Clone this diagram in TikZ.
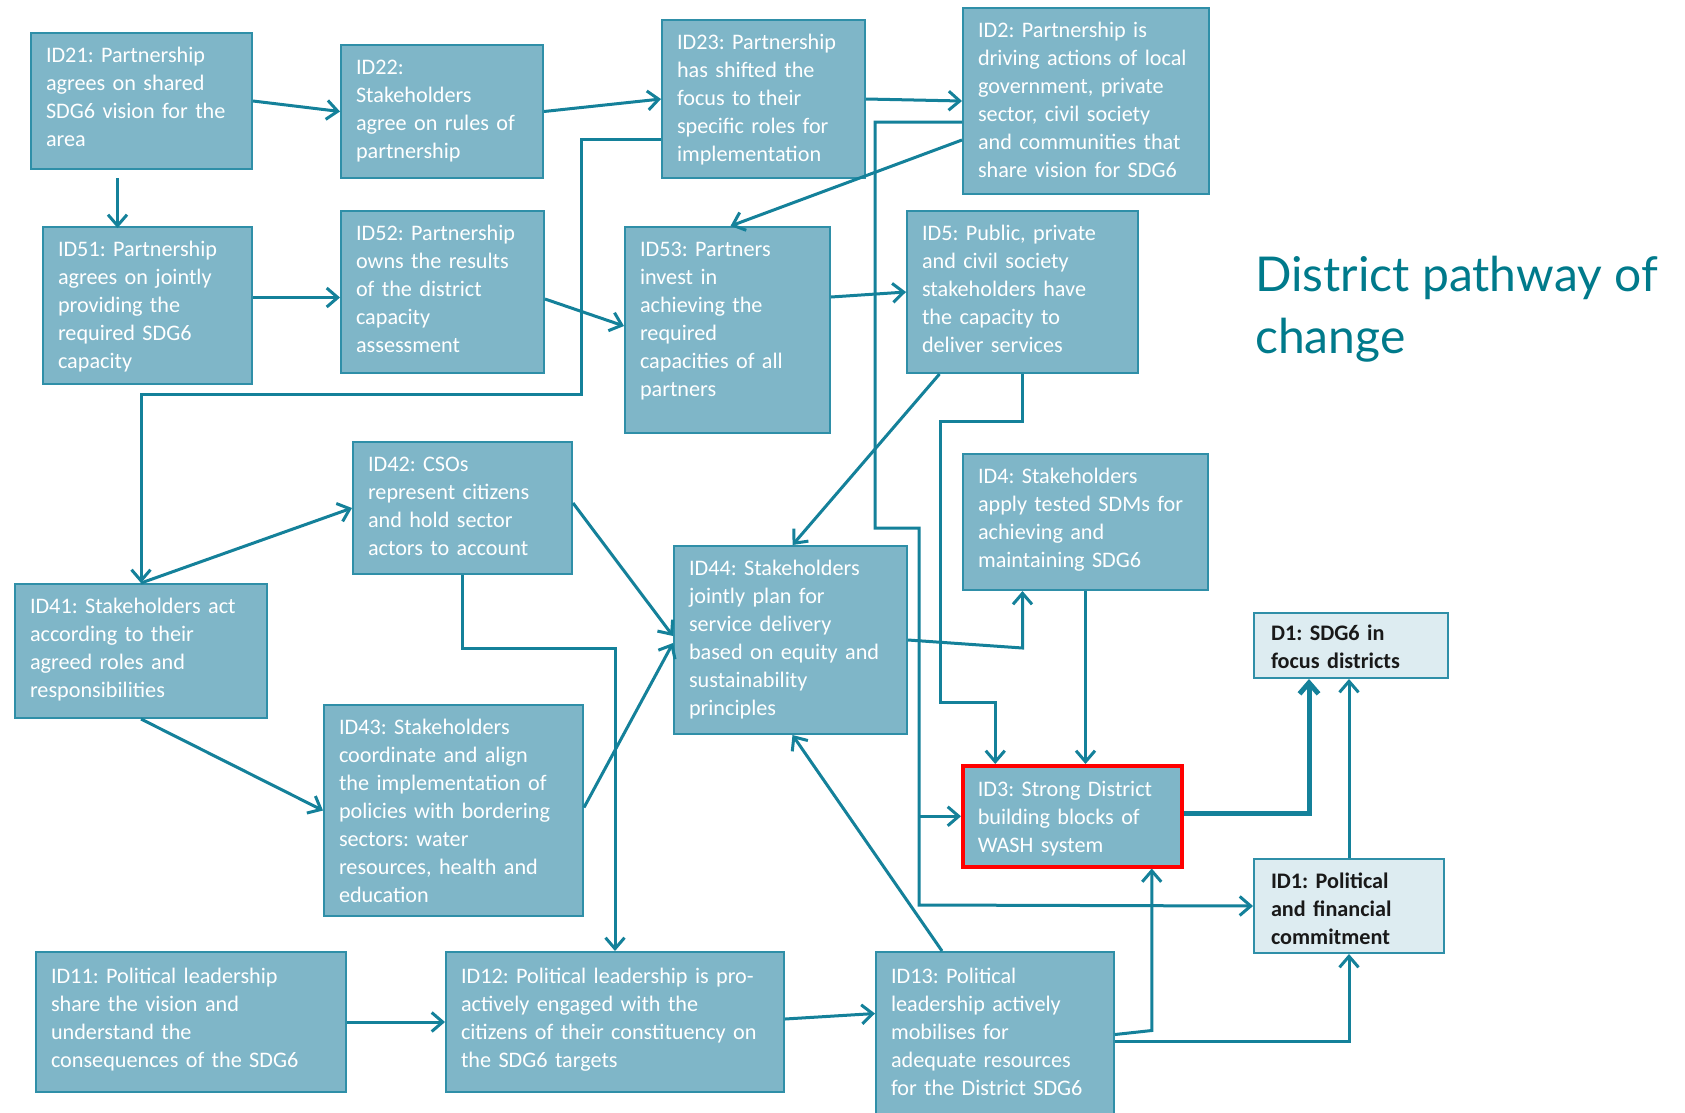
\documentclass[tikz,border=0pt]{standalone}
\usepackage{fontspec}
\setmainfont{Carlito}
\newfontfamily\titlefont{Lato}
\usepackage{xcolor}
\usepackage{tikz}
\usetikzlibrary{arrows.meta, calc}
\definecolor{boxfill}{HTML}{7FB6C8}
\definecolor{boxedge}{HTML}{2F8FA8}
\definecolor{linkcol}{HTML}{14819A}
\definecolor{paleblue}{HTML}{DDECF1}
\definecolor{titlecol}{HTML}{007A8B}
\frenchspacing

\begin{document}
\begin{tikzpicture}[x=1pt, y=-1pt,
    every node/.style={font=\fontsize{22.2}{28}\selectfont},
    idbox/.style={draw=boxedge, line width=2pt, fill=boxfill, text=white, align=left, anchor=north west,
      inner xsep=15pt, inner ysep=14.5pt, text height=15pt},
    outbox/.style={idbox, fill=paleblue, text=black!90, inner xsep=17pt, font=\fontsize{22.2}{28}\selectfont\bfseries},
    link/.style={draw=linkcol, line width=3pt, -{Straight Barb[length=11pt, width=19pt]}}]
    \useasboundingbox (0,0) rectangle (1685,1112);
    \fill[white] (0,0) rectangle (1685,1112);

    % Partnership boxes
    \node[idbox, text width=191pt, text depth=92pt] (id21) at (30,32) {ID21: Partnership\\agrees on shared\\SDG6 vision for the\\area};
    \node[idbox, text width=172pt, text depth=89pt] (id22) at (340,44) {ID22:\\Stakeholders\\agree on rules of\\partnership};
    \node[idbox, text width=173pt, text depth=114pt] (id23) at (661,19) {ID23: Partnership\\has shifted the\\focus to their\\specific roles for\\implementation};
    \node[idbox, text width=216pt, text depth=142pt] (id2) at (962,7) {ID2: Partnership is\\driving actions of local\\government, private\\sector, civil society\\and communities that\\share vision for SDG6};
    \node[idbox, text width=179pt, text depth=113pt] (id51) at (42,226) {ID51: Partnership\\agrees on jointly\\providing the\\required SDG6\\capacity};
    \node[idbox, text width=173pt, text depth=118pt] (id52) at (340,210) {ID52: Partnership\\owns the results\\of the district\\capacity\\assessment};
    \node[idbox, text width=175pt, text depth=162pt] (id53) at (624,226) {ID53: Partners\\invest in\\achieving the\\required\\capacities of all\\partners};
    \node[idbox, text width=201pt, text depth=118pt] (id5) at (906,210) {ID5: Public, private\\and civil society\\stakeholders have\\the capacity to\\deliver services};

    % Stakeholder boxes
    \node[idbox, text width=189pt, text depth=88pt] (id42) at (352,441) {ID42: CSOs\\represent citizens\\and hold sector\\actors to account};
    \node[idbox, text width=222pt, text depth=90pt] (id41) at (14,583) {ID41: Stakeholders act\\according to their\\agreed roles and\\responsibilities};
    \node[idbox, text width=229pt, text depth=167pt] (id43) at (323,704) {ID43: Stakeholders\\coordinate and align\\the implementation of\\policies with bordering\\sectors: water\\resources, health and\\education};
    \node[idbox, text width=203pt, text depth=144pt] (id44) at (673,545) {ID44: Stakeholders\\jointly plan for\\service delivery\\based on equity and\\sustainability\\principles};
    \node[idbox, text width=215pt, text depth=92pt] (id4) at (962,453) {ID4: Stakeholders\\apply tested SDMs for\\achieving and\\maintaining SDG6};
    \node[idbox, draw=red, line width=3.5pt, text width=189pt, text depth=54pt, inner ysep=16pt] (id3) at (961,764) {ID3: Strong District\\building blocks of\\WASH system};

    % Political boxes
    \node[idbox, text width=280pt, text depth=93pt, inner ysep=16pt] (id11) at (35,951) {ID11: Political leadership\\share the vision and\\understand the\\consequences of the SDG6};
    \node[idbox, text width=308pt, text depth=93pt, inner ysep=16pt] (id12) at (445,951) {ID12: Political leadership is pro-\\actively engaged with the\\citizens of their constituency on\\the SDG6 targets};
    \node[idbox, text width=208pt, text depth=136pt, inner ysep=16pt] (id13) at (875,951) {ID13: Political\\leadership actively\\mobilises for\\adequate resources\\for the District SDG6};

    % Outcomes
    \node[outbox, text width=160pt, text depth=25pt, inner ysep=13pt, text height=14pt] (d1) at (1253,612) {D1: SDG6 in\\focus districts};
    \node[outbox, text width=156pt, text depth=50pt] (id1) at (1253,858) {ID1: Political\\and financial\\commitment};
    \node[anchor=north west, align=left, inner sep=0pt, text=titlecol, font=\titlefont\fontsize{48}{62}\selectfont] (title) at (1255,256) {District pathway of\\change};

    % Links
    \coordinate (trunk) at (919,905);
    \draw[link] (id21.east) -- (id22.west);
    \draw[link] (id22.east) -- (id23.west);
    \draw[link] (id23.east) -- (id2.west);
    \draw[link] ($(id21.south)+(-24,8)$) -- ($(id21.south)+(-24,58)$);
    \draw[link] ([yshift=8pt]id51.east) -- ([yshift=-5.5pt]id52.west);
    \draw[link] ([yshift=-7pt]id52.east) -- ([yshift=4pt]id53.west);
    \draw[link] ([yshift=33pt]id53.east) -- (id5.west);
    \draw[link] ([yshift=-39pt]id2.west) -- ([xshift=3pt]id53.north);
    \draw[link] ([yshift=-40pt]id23.west) -| (581,394) -| (id41.north);
    \draw[link] (id41.north) -- (id42.west);
    \draw[link] (id41.south) -- (id43.west);
    \draw[link] ([yshift=5pt]id42.east) -- ([yshift=4pt]id44.west);
    \draw[link] ([yshift=3pt]id43.east) -- ([yshift=-3pt]id44.west);
    \draw[link] (id42.south) -- ++(0,73) -| (id12.north);
    \draw[link] ([xshift=-83pt]id5.south) -- ([xshift=2pt]id44.north);
    \draw[link] (id5.south) -- ++(0,47) -| (940,702) -| ([xshift=-77pt]id3.north);
    \draw[link] ([yshift=-21pt]id2.west) -| (875,528) -| (trunk) -- (id1.west);
    \draw[link] (trunk |- id3.west) -- (id3.west);
    \draw[link] (id44.east) -- ($(id4.south)+(-63,57)$) -- ([xshift=-63pt]id4.south);
    \draw[link] (id4.south) -- (id4.south |- id3.north);
    \draw[link] ([xshift=-53pt]id13.north) -- ([xshift=2pt]id44.south);
    \draw[link] (id11.east) -- (id12.west);
    \draw[link] ([yshift=3pt]id12.east) -- ([yshift=30pt]id13.west);
    \draw[link] ([yshift=9pt]id13.east) -- ($(id3.south)+(79.5,162)$) -- ([xshift=79.5pt]id3.south);
    \draw[link] ([yshift=2pt]id13.east) -| (id1.south);
    \draw[link] (id1.north) -- (id1.north |- d1.south);
    \draw[link, line width=5pt] ([yshift=3pt]id3.east) -| ([xshift=-42pt]d1.south);
  \end{tikzpicture}
\end{document}
